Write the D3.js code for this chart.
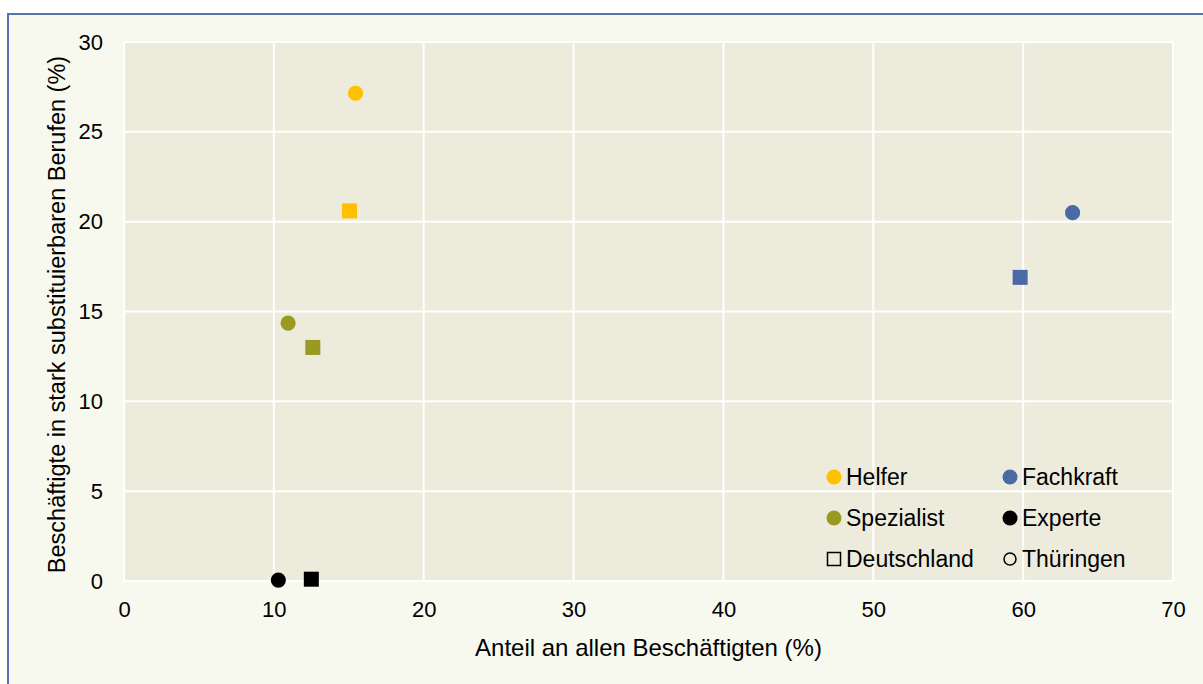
<!DOCTYPE html>
<html>
<head>
<meta charset="utf-8">
<script src="https://cdn.jsdelivr.net/npm/d3@7"></script>
<style>
  body { margin: 0; background: #ffffff; }
  svg { display: block; font-family: "Liberation Sans", Arial, sans-serif; }
</style>
</head>
<body>
<div id="my_dataviz"></div>
<script>
// data
var groups = ["Helfer", "Fachkraft", "Spezialist", "Experte"];
var groupColors = ["#ffc000", "#4a6aa6", "#999a1f", "#000000"];
var regions = ["Deutschland", "Thüringen"];
var xDeutschland = [15.05, 59.8, 12.6, 12.5];
var yDeutschland = [20.6, 16.9, 13.0, 0.1];
var xThueringen = [15.45, 63.3, 10.95, 10.3];
var yThueringen = [27.15, 20.5, 14.35, 0.05];
var xTicks = [0, 10, 20, 30, 40, 50, 60, 70];
var yTicks = [0, 5, 10, 15, 20, 25, 30];

var W = 1203, H = 684;
var margin = {top: 42, right: 30, bottom: 103, left: 124},
    width = 1173 - margin.left,
    height = 581 - margin.top;

var root = d3.select("#my_dataviz")
  .append("svg")
    .attr("width", W)
    .attr("height", H);

// outer frame
root.append("rect")
  .attr("x", 8).attr("y", 14)
  .attr("width", W + 20).attr("height", H + 20)
  .attr("fill", "#f8f9ee")
  .attr("stroke", "#5673ad")
  .attr("stroke-width", 2);

var svg = root.append("g")
  .attr("transform", "translate(" + margin.left + "," + margin.top + ")");

var x = d3.scaleLinear().domain([0, 70]).range([0, width]);
var y = d3.scaleLinear().domain([0, 30]).range([height, 0]);

// plot background
svg.append("rect")
  .attr("width", width).attr("height", height)
  .attr("fill", "#edebdc");

// grid
svg.append("g")
  .selectAll("line.v")
  .data(xTicks)
  .enter().append("line")
    .attr("x1", function(d) { return x(d); })
    .attr("x2", function(d) { return x(d); })
    .attr("y1", 0).attr("y2", height)
    .attr("stroke", "#ffffff").attr("stroke-width", 2);
svg.append("g")
  .selectAll("line.h")
  .data(yTicks)
  .enter().append("line")
    .attr("y1", function(d) { return y(d); })
    .attr("y2", function(d) { return y(d); })
    .attr("x1", 0).attr("x2", width)
    .attr("stroke", "#ffffff").attr("stroke-width", 2);

// axes (labels only)
var xAxis = svg.append("g")
  .attr("transform", "translate(0," + height + ")")
  .call(d3.axisBottom(x).tickValues(xTicks).tickSize(0).tickPadding(20));
var yAxis = svg.append("g")
  .call(d3.axisLeft(y).tickValues(yTicks).tickSize(0).tickPadding(21));
[xAxis, yAxis].forEach(function(a) {
  a.select(".domain").remove();
  a.selectAll("text")
    .style("font-size", "22px")
    .style("font-family", "Liberation Sans, Arial, sans-serif")
    .attr("fill", "#000");
});

// axis titles
svg.append("text")
  .attr("x", width / 2 + 0)
  .attr("y", height + 75)
  .attr("text-anchor", "middle")
  .style("font-size", "24px")
  .text("Anteil an allen Beschäftigten (%)");

svg.append("text")
  .attr("transform", "translate(" + (-59) + "," + (height / 2 + 3) + ") rotate(-90)")
  .attr("text-anchor", "middle")
  .style("font-size", "23.5px")
  .text("Beschäftigte in stark substituierbaren Berufen (%)");

// points
var square = d3.symbol().type(d3.symbolSquare).size(225);
var circle = d3.symbol().type(d3.symbolCircle).size(180);

svg.append("g").selectAll("path")
  .data(groups)
  .enter().append("path")
    .attr("d", square)
    .attr("transform", function(d, i) { return "translate(" + x(xDeutschland[i]) + "," + y(yDeutschland[i]) + ")"; })
    .attr("fill", function(d, i) { return groupColors[i]; });

svg.append("g").selectAll("path")
  .data(groups)
  .enter().append("path")
    .attr("d", circle)
    .attr("transform", function(d, i) { return "translate(" + x(xThueringen[i]) + "," + y(yThueringen[i]) + ")"; })
    .attr("fill", function(d, i) { return groupColors[i]; });

// legend
var legend = root.append("g");
var legendItems = groups.concat(regions);
legendItems.forEach(function(name, i) {
  var col = i % 2, row = Math.floor(i / 2);
  var lx = 834 + col * 176, ly = 477 + row * 41;
  if (i < 4) {
    legend.append("circle")
      .attr("cx", lx).attr("cy", ly).attr("r", 7.5)
      .attr("fill", groupColors[i]);
  } else if (name === "Deutschland") {
    legend.append("rect")
      .attr("x", lx - 6.5).attr("y", ly - 6.5)
      .attr("width", 13).attr("height", 13)
      .attr("fill", "none").attr("stroke", "#000").attr("stroke-width", 1.5);
  } else {
    legend.append("circle")
      .attr("cx", lx).attr("cy", ly).attr("r", 6)
      .attr("fill", "none").attr("stroke", "#000").attr("stroke-width", 1.5);
  }
  legend.append("text")
    .attr("x", lx + 12).attr("y", ly)
    .attr("dy", "0.36em")
    .style("font-size", "23px")
    .text(name);
});
</script>
</body>
</html>
